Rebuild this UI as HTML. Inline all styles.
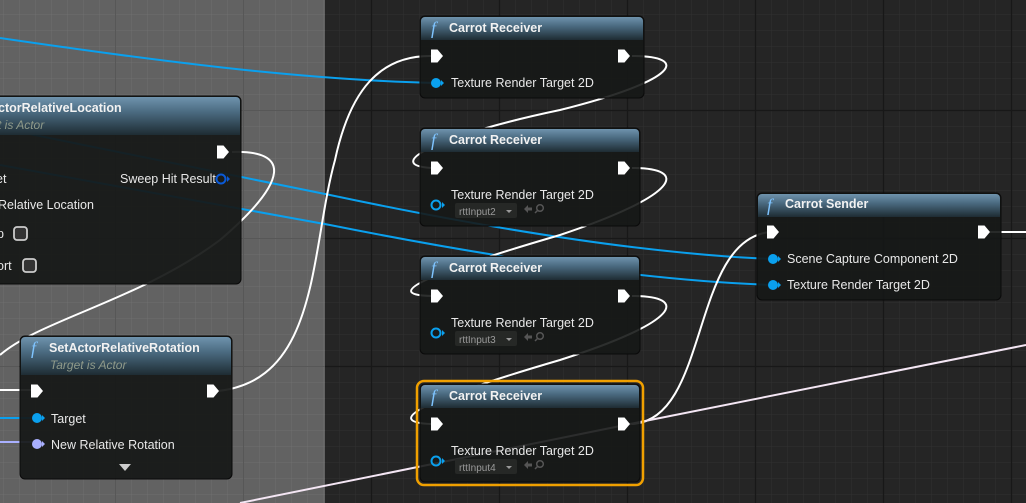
<!DOCTYPE html>
<html><head><meta charset="utf-8"><style>
html,body{margin:0;padding:0;background:#262626;}
svg{display:block;font-family:"Liberation Sans",sans-serif;}
.t{fill:#e8e8e8;font-size:12.5px;}
.h{fill:#f2f2f2;font-size:12.5px;font-weight:bold;}
.s{fill:#8f9a8a;font-size:12px;font-style:italic;}
.f{fill:#7fc4ff;font-size:18px;font-style:italic;font-family:"Liberation Serif",serif;}
.d{fill:#9a9a9a;font-size:10px;}
</style></head><body>
<svg width="1026" height="503" viewBox="0 0 1026 503">
<defs>
<pattern id="gl" width="16" height="16" patternUnits="userSpaceOnUse" x="3" y="14">
<rect width="16" height="16" fill="#626262"/><path d="M0 0H16M0 0V16" stroke="#6f6f6f" stroke-width="1"/></pattern>
<pattern id="gr" width="16" height="16" patternUnits="userSpaceOnUse" x="3" y="14">
<rect width="16" height="16" fill="#252525"/><path d="M0 0H16M0 0V16" stroke="#313131" stroke-width="1"/></pattern>
<linearGradient id="hd" x1="0" y1="0" x2="0" y2="1">
<stop offset="0" stop-color="#6f93ad"/><stop offset="0.4" stop-color="#4a6a80"/><stop offset="1" stop-color="#1e2c33"/></linearGradient>
<g id="exec"><path d="M0 -6.5H6.5L12 0L6.5 6.5H0Z" fill="#fff"/></g>
<g id="dd"><path d="M0 0h6l-3 3z" fill="#999"/><path d="M18 -1l4-4v2.5h4v3h-4v2.5z" fill="#555"/><circle cx="34" cy="-2" r="3.3" fill="none" stroke="#555" stroke-width="1.5"/><path d="M32 0l-3 3" stroke="#555" stroke-width="1.5"/></g>
</defs>
<rect x="0" y="0" width="325" height="503" fill="url(#gl)"/>
<rect x="325" y="0" width="701" height="503" fill="url(#gr)"/>
<g stroke="#575757" stroke-width="1">
<path d="M115.5 0V503M243.5 0V503"/>
<path d="M0 110.5H325M0 238.5H325M0 366.5H325"/>
</g>
<g stroke="#181818" stroke-width="1.2">
<path d="M371.5 0V503M499.5 0V503M627.5 0V503M755.5 0V503M883.5 0V503M1011.5 0V503"/>
<path d="M325 110.5H1026M325 238.5H1026M325 366.5H1026"/>
</g>
<!-- wires -->
<g fill="none" stroke-width="2">
<path d="M0 38 C150 60 300 80 437 83" stroke="#0aa0ee"/>
<path d="M0 128 L330 195 Q600 252 772 259" stroke="#0aa0ee"/>
<path d="M0 165 L330 225 Q600 279 772 285" stroke="#0aa0ee"/>
<path d="M0 418H38" stroke="#0aa0ee"/>
<path d="M0 442H38" stroke="#a9b0ff"/>
<path d="M232 152 C290 150 290 180 220 240 C140 300 40 320 0 355" stroke="#fff"/>
<path d="M0 390H32" stroke="#fff"/>
<path d="M218 391 C320 380 310 250 335 160 C350 90 380 55 432 56" stroke="#fff"/>
<path d="M632 56 C690 56 680 80 560 110 C440 135 380 165 432 168" stroke="#fff"/>
<path d="M632 168 C690 168 680 195 560 235 C440 270 375 295 432 296" stroke="#fff"/>
<path d="M632 296 C690 296 680 322 560 360 C440 395 375 422 432 424" stroke="#fff"/>
<path d="M632 424 C710 420 690 240 770 232" stroke="#fff"/>
<path d="M990 232 H1026" stroke="#fff"/>
<path d="M240 503 L640 422 L1026 345" stroke="#f4e6f4"/>
</g>
<!-- Receiver nodes -->
<g>
<rect x="420" y="16" width="224" height="82" rx="5" fill="#161817" fill-opacity="0.9" stroke="#0a0a0a"/>
<path d="M421 21a4 4 0 0 1 4-4h214a4 4 0 0 1 4 4v19H421Z" fill="url(#hd)"/>
<text x="431" y="34" class="f">f</text><text x="449" y="32" class="h">Carrot Receiver</text>
<use href="#exec" x="431" y="56"/><use href="#exec" x="618" y="56"/>
<circle cx="436" cy="83" r="5" fill="#0aa0ee"/><path d="M441 80l3 3-3 3z" fill="#0aa0ee"/>
<text x="451" y="87" class="t">Texture Render Target 2D</text>
</g>
<g>
<rect x="420" y="128" width="220" height="98" rx="5" fill="#161817" fill-opacity="0.9" stroke="#0a0a0a"/>
<path d="M421 133a4 4 0 0 1 4-4h210a4 4 0 0 1 4 4v19H421Z" fill="url(#hd)"/>
<text x="431" y="146" class="f">f</text><text x="449" y="144" class="h">Carrot Receiver</text>
<use href="#exec" x="431" y="168"/><use href="#exec" x="618" y="168"/>
<circle cx="436" cy="205" r="4.5" fill="none" stroke="#0aa0ee" stroke-width="2"/><path d="M442 202l3 3-3 3z" fill="#0aa0ee"/>
<text x="451" y="199" class="t">Texture Render Target 2D</text>
<rect x="455" y="203" width="62" height="15" rx="2" fill="#262826"/>
<text x="459" y="215" class="d">rttInput2</text><use href="#dd" x="506" y="210"/>
</g>
<g>
<rect x="420" y="256" width="220" height="98" rx="5" fill="#161817" fill-opacity="0.9" stroke="#0a0a0a"/>
<path d="M421 261a4 4 0 0 1 4-4h210a4 4 0 0 1 4 4v19H421Z" fill="url(#hd)"/>
<text x="431" y="274" class="f">f</text><text x="449" y="272" class="h">Carrot Receiver</text>
<use href="#exec" x="431" y="296"/><use href="#exec" x="618" y="296"/>
<circle cx="436" cy="333" r="4.5" fill="none" stroke="#0aa0ee" stroke-width="2"/><path d="M442 330l3 3-3 3z" fill="#0aa0ee"/>
<text x="451" y="327" class="t">Texture Render Target 2D</text>
<rect x="455" y="331" width="62" height="15" rx="2" fill="#262826"/>
<text x="459" y="343" class="d">rttInput3</text><use href="#dd" x="506" y="338"/>
</g>
<g>
<rect x="417" y="381" width="226" height="104" rx="7" fill="none" stroke="#f0a000" stroke-width="2.5"/>
<rect x="420" y="384" width="220" height="98" rx="5" fill="#161817" fill-opacity="0.9" stroke="#0a0a0a"/>
<path d="M421 389a4 4 0 0 1 4-4h210a4 4 0 0 1 4 4v19H421Z" fill="url(#hd)"/>
<text x="431" y="402" class="f">f</text><text x="449" y="400" class="h">Carrot Receiver</text>
<use href="#exec" x="431" y="424"/><use href="#exec" x="618" y="424"/>
<circle cx="436" cy="461" r="4.5" fill="none" stroke="#0aa0ee" stroke-width="2"/><path d="M442 458l3 3-3 3z" fill="#0aa0ee"/>
<text x="451" y="455" class="t">Texture Render Target 2D</text>
<rect x="455" y="459" width="62" height="15" rx="2" fill="#262826"/>
<text x="459" y="471" class="d">rttInput4</text><use href="#dd" x="506" y="466"/>
</g>
<!-- Sender -->
<g>
<rect x="757" y="193" width="244" height="107" rx="5" fill="#161817" fill-opacity="0.92" stroke="#0a0a0a"/>
<path d="M758 198a4 4 0 0 1 4-4h234a4 4 0 0 1 4 4v19H758Z" fill="url(#hd)"/>
<text x="767" y="211" class="f">f</text><text x="785" y="208" class="h">Carrot Sender</text>
<use href="#exec" x="767" y="232"/><use href="#exec" x="978" y="232"/>
<circle cx="773" cy="259" r="5" fill="#0aa0ee"/><path d="M778 256l3 3-3 3z" fill="#0aa0ee"/>
<text x="787" y="263" class="t">Scene Capture Component 2D</text>
<circle cx="773" cy="285" r="5" fill="#0aa0ee"/><path d="M778 282l3 3-3 3z" fill="#0aa0ee"/>
<text x="787" y="289" class="t">Texture Render Target 2D</text>
</g>
<!-- SetActorRelativeLocation -->
<g>
<rect x="-10" y="96" width="251" height="188" rx="5" fill="#161817" fill-opacity="0.93" stroke="#0a0a0a"/>
<path d="M-9 101a4 4 0 0 1 4-4h241a4 4 0 0 1 4 4v34H-9Z" fill="url(#hd)"/>
<text x="-2" y="112" class="h">ctorRelativeLocation</text>
<text x="-2" y="129" class="s">t is Actor</text>
<use href="#exec" x="217" y="152"/>
<text x="-4" y="183" class="t">et</text>
<text x="120" y="183" class="t">Sweep Hit Result</text>
<circle cx="221" cy="179" r="4.5" fill="none" stroke="#0a5ad8" stroke-width="2"/><path d="M227 176l3 3-3 3z" fill="#0a5ad8"/>
<text x="-2" y="209" class="t">Relative Location</text>
<text x="-3" y="238" class="t">p</text>
<rect x="14" y="227" width="13" height="13" rx="3" fill="#333" stroke="#ccc" stroke-width="1.8"/>
<text x="-3" y="270" class="t">ort</text>
<rect x="23" y="259" width="13" height="13" rx="3" fill="#333" stroke="#ccc" stroke-width="1.8"/>
</g>
<!-- SetActorRelativeRotation -->
<g>
<rect x="20" y="336" width="212" height="143" rx="5" fill="#161817" fill-opacity="0.93" stroke="#0a0a0a"/>
<path d="M21 341a4 4 0 0 1 4-4h202a4 4 0 0 1 4 4v34H21Z" fill="url(#hd)"/>
<text x="31" y="354" class="f">f</text><text x="49" y="352" class="h">SetActorRelativeRotation</text>
<text x="50" y="369" class="s">Target is Actor</text>
<use href="#exec" x="31" y="391"/><use href="#exec" x="207" y="391"/>
<circle cx="37" cy="418" r="5" fill="#0aa0ee"/><path d="M42 415l3 3-3 3z" fill="#0aa0ee"/>
<text x="51" y="423" class="t">Target</text>
<circle cx="37" cy="444" r="5" fill="#a9b0ff"/><path d="M42 441l3 3-3 3z" fill="#a9b0ff"/>
<text x="51" y="449" class="t">New Relative Rotation</text>
<path d="M119 464h12l-6 7z" fill="#ccc"/>
</g>
</svg>
</body></html>
